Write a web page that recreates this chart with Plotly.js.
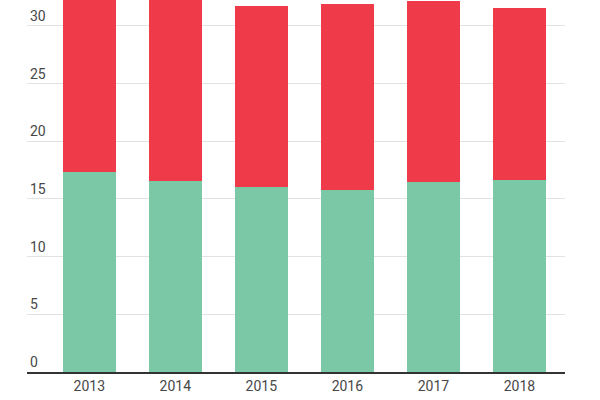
<!DOCTYPE html>
<html>
<head>
<meta charset="utf-8">
<script src="https://cdn.plot.ly/plotly-3.0.1.min.js"></script>
<style>html,body{margin:0;padding:0;background:#fff;}#chart{width:600px;height:400px;}</style>
</head>
<body>
<div id="chart"></div>
<script>
var years = ['2013', '2014', '2015', '2016', '2017', '2018'];
var greenValues = [17.36, 16.58, 16.0, 15.8, 16.49, 16.67];
var redValues = [15.84, 16.3, 15.73, 16.1, 15.67, 14.89];
var yTicks = [0, 5, 10, 15, 20, 25, 30];

var traces = [
  {type: 'bar', x: years, y: greenValues, marker: {color: '#7bc8a6'}, hoverinfo: 'none'},
  {type: 'bar', x: years, y: redValues, marker: {color: '#ef3a4a'}, hoverinfo: 'none'}
];

var layout = {
  width: 600, height: 400,
  barmode: 'stack',
  bargap: 0.38,
  showlegend: false,
  paper_bgcolor: '#fff', plot_bgcolor: '#fff',
  margin: {l: 27, r: 35, t: 0, b: 27.5, pad: 0},
  font: {family: 'Roboto, sans-serif', size: 14, color: '#474747'},
  xaxis: {
    type: 'category',
    range: [-0.724, 5.53],
    showline: true, linecolor: '#333', linewidth: 2,
    showgrid: false, ticks: '', tickfont: {size: 14, color: '#474747'},
    fixedrange: true
  },
  yaxis: {
    range: [0, 32.25],
    tickvals: yTicks,
    ticktext: yTicks.map(String),
    ticklabelposition: 'inside top',
    showgrid: true, gridcolor: '#e2e2e2', gridwidth: 1,
    zeroline: false, showline: false, ticks: '',
    tickfont: {size: 14, color: '#474747'},
    fixedrange: true
  }
};

Plotly.newPlot('chart', traces, layout, {displayModeBar: false, staticPlot: true});
</script>
</body>
</html>
